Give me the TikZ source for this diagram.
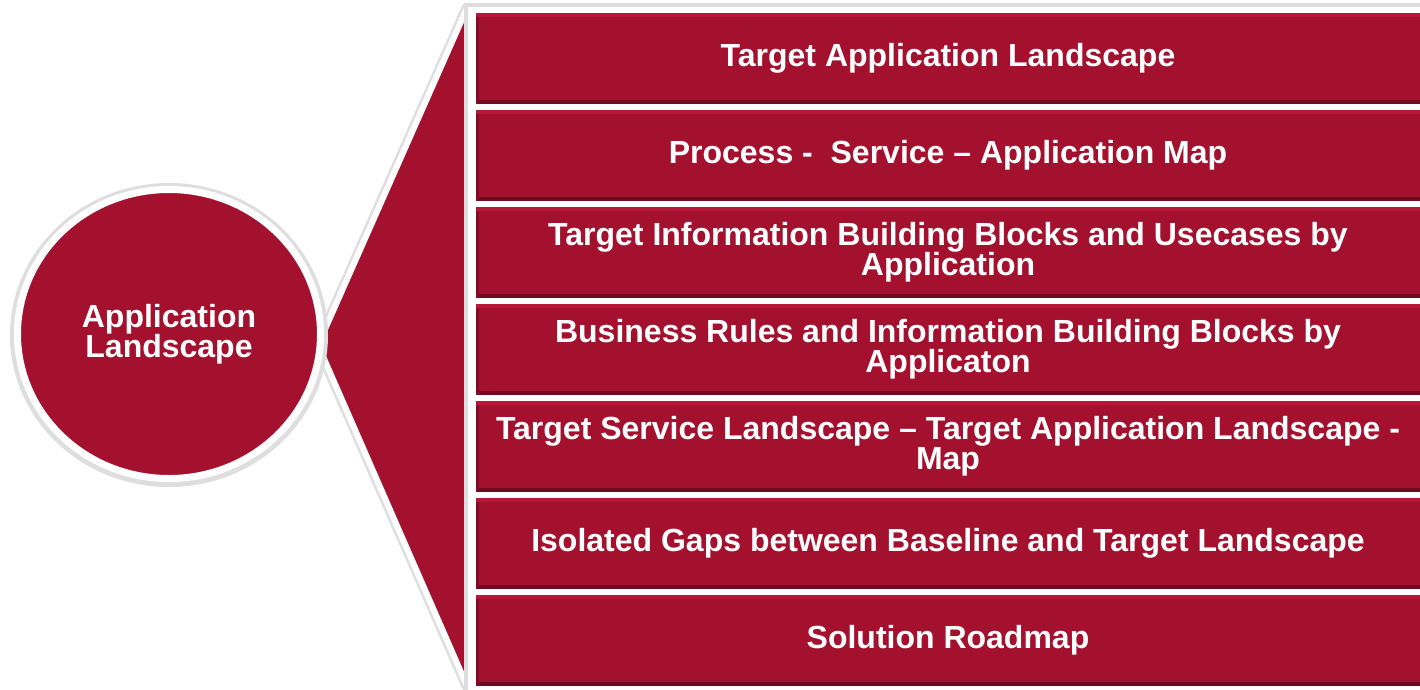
\documentclass[tikz,border=0pt]{standalone}
\usepackage{fontspec}
\setsansfont{Liberation Sans}
\usepackage{tikz}
\usetikzlibrary{shapes.geometric}

\definecolor{appred}{RGB}{163,17,47}
\definecolor{applight}{RGB}{184,22,56}
\definecolor{appdark}{RGB}{112,10,32}
\definecolor{halo}{RGB}{222,222,222}

\tikzset{
  hub/.style={ellipse, draw=white, line width=7pt, fill=appred, minimum width=303pt, minimum height=289pt,
    inner sep=0pt, text=white, align=center, font=\sffamily\bfseries\fontsize{32}{30}\selectfont},
  item/.style={rectangle, fill=appred, minimum width=944pt, minimum height=91pt, inner sep=0pt,
    text=white, align=center, font=\sffamily\bfseries\fontsize{32}{30}\selectfont,
    path picture={
      \fill[applight] (path picture bounding box.north west) rectangle ([yshift=-4pt]path picture bounding box.north east);
      \fill[appdark] (path picture bounding box.south west) rectangle ([yshift=4pt]path picture bounding box.south east);
      \fill[appdark!70!appred] (path picture bounding box.south west) rectangle ([xshift=3pt,yshift=-4pt]path picture bounding box.north west);
    }},
}

\begin{document}
\begin{tikzpicture}[x=1pt,y=-1pt]
\useasboundingbox (0,0) rectangle (1420,689);

% fan behind the circle
\coordinate (tip) at (318,345);
\coordinate (fantop) at (467,8);
\coordinate (fanbot) at (467,686);
\draw [halo, line width=11pt, line join=round] (tip) -- (fantop) -- (fanbot) -- cycle;
\draw [white, line width=6pt, line join=round, fill=appred] (tip) -- (fantop) -- (fanbot) -- cycle;

% white frame of the list
\fill [halo] (464,3) rectangle (1420,689);
\node [rectangle, fill=white, minimum width=960pt, minimum height=684pt, inner sep=0pt, anchor=north west]
  (stack) at (468,7) {};

\foreach \i/\txt in {1/{Target Application Landscape},
  2/{Process -\ \ Service -- Application Map},
  3/{Target Information Building Blocks and Usecases by\\Application},
  4/{Business Rules and Information Building Blocks by\\Applicaton},
  5/{Target Service Landscape -- Target Application Landscape -\\Map},
  6/{Isolated Gaps between Baseline and Target Landscape},
  7/{Solution Roadmap}}{
  \node [item] (item\i) at (948,{58.5+97*(\i-1)}) {\txt};
}

% the circle with a soft rim
\fill [halo] (169,335) ellipse [x radius=159, y radius=152];
\node [hub] (hub) at (169,334) {Application\\Landscape};
\end{tikzpicture}
\end{document}
